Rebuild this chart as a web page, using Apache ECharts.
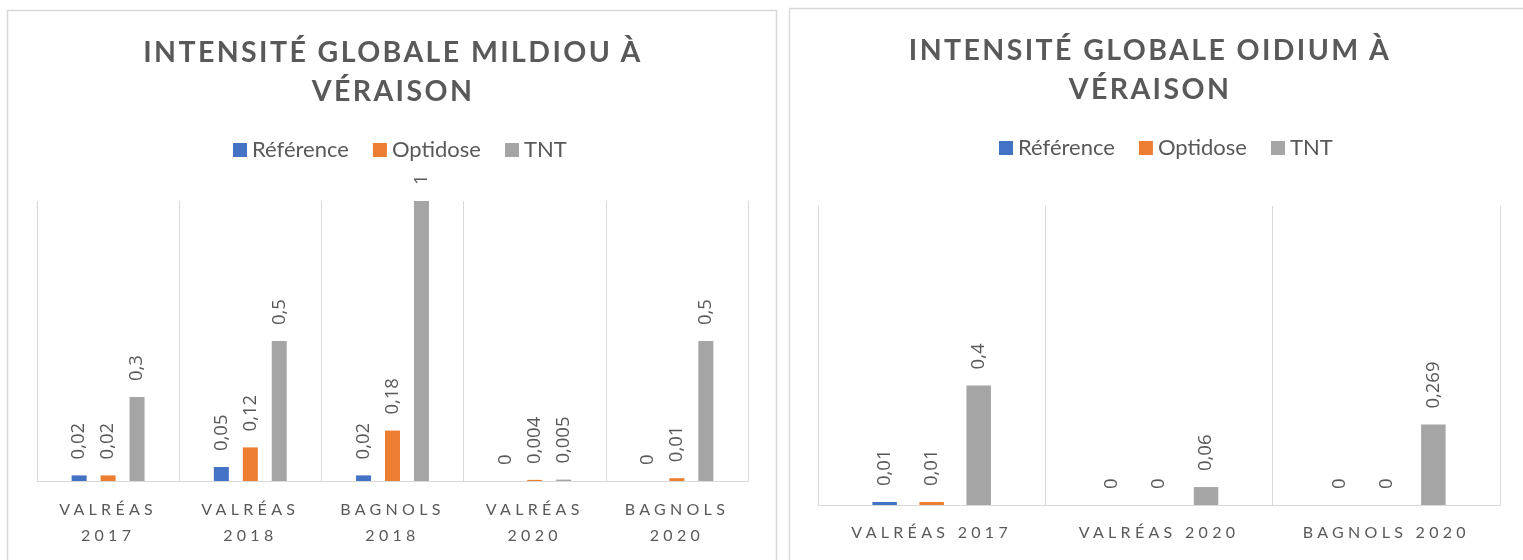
<!DOCTYPE html>
<html><head><meta charset="utf-8">
<script src="https://cdn.jsdelivr.net/npm/echarts@6/dist/echarts.min.js"></script>
<style>
html,body{margin:0;padding:0;background:#fff;}
#wrap{position:relative;width:1523px;height:560px;overflow:hidden;}
.layer{position:absolute;left:0;top:0;width:1523px;height:560px;}
#titles,#labels{pointer-events:none;}
#titles text{letter-spacing:2.4px;}
#labels text{letter-spacing:4.3px;}
</style></head>
<body>
<div id="wrap"><div id="base" class="layer"></div><div id="titles" class="layer"></div><div id="labels" class="layer"></div></div>
<script>
// ---- data ----
const seriesNames = ['Référence', 'Optidose', 'TNT'];
const mildiouCategories = ['VALRÉAS 2017', 'VALRÉAS 2018', 'BAGNOLS 2018', 'VALRÉAS 2020', 'BAGNOLS 2020'];
const mildiouReference = [0.02, 0.05, 0.02, 0, 0];
const mildiouOptidose = [0.02, 0.12, 0.18, 0.004, 0.01];
const mildiouTNT = [0.3, 0.5, 1, 0.005, 0.5];
const oidiumCategories = ['VALRÉAS 2017', 'VALRÉAS 2020', 'BAGNOLS 2020'];
const oidiumReference = [0.01, 0, 0];
const oidiumOptidose = [0.01, 0, 0];
const oidiumTNT = [0.4, 0.06, 0.269];
const chartTitles = ['INTENSITÉ GLOBALE MILDIOU À\nVÉRAISON', 'INTENSITÉ GLOBALE OIDIUM À\nVÉRAISON'];

// ---- styles ----
const colors = ['#4472C4', '#ED7D31', '#A5A5A5'];
const textGray = '#595959';
const lineGray = '#d9d9d9';
const grids = [
  { left: 37, top: 201, width: 711, height: 280 },
  { left: 818, top: 206, width: 682, height: 299 }
];
const fmt = p => String(p.value).replace('.', ',');

function makeSeries(gridIdx, values, i, barWidth, barGap) {
  return {
    name: seriesNames[i], type: 'bar', xAxisIndex: gridIdx, yAxisIndex: gridIdx,
    data: values, barWidth: barWidth, barGap: barGap,
    itemStyle: { color: colors[i] },
    label: {
      show: true, position: 'top', rotate: 90, align: 'left', verticalAlign: 'middle',
      distance: 16, color: textGray, fontFamily: 'Open Sans', fontSize: 18.5, formatter: fmt
    }
  };
}

const baseX = (idx, data) => ({
  type: 'category', gridIndex: idx, data: data,
  axisLine: { lineStyle: { color: lineGray, width: 1 } },
  axisTick: { show: false }, axisLabel: { show: false },
  splitLine: { show: true, lineStyle: { color: lineGray, width: 1 } }
});
const baseY = idx => ({ type: 'value', gridIndex: idx, min: 0, max: 1, show: false });

const legendCommon = {
  orient: 'horizontal', padding: 0, itemWidth: 14, itemHeight: 14, itemGap: 24, icon: 'rect',
  selectedMode: false, data: seriesNames,
  textStyle: { fontFamily: 'Lato', fontSize: 22, color: textGray, lineHeight: 22 }
};

const base = echarts.init(document.getElementById('base'), null, { renderer: 'canvas' });
base.setOption({
  animation: false, backgroundColor: '#fff',
  graphic: [
    { type: 'rect', shape: { x: 7.5, y: 10.5, width: 769, height: 600 }, style: { fill: 'none', stroke: lineGray, lineWidth: 1.5 }, z: -10 },
    { type: 'rect', shape: { x: 789.5, y: 8.5, width: 800, height: 600 }, style: { fill: 'none', stroke: lineGray, lineWidth: 1.5 }, z: -10 }
  ],
  legend: [
    Object.assign({}, legendCommon, { left: 233, top: 139 }),
    Object.assign({}, legendCommon, { left: 999, top: 137 })
  ],
  grid: grids,
  xAxis: [baseX(0, mildiouCategories), baseX(1, oidiumCategories)],
  yAxis: [baseY(0), baseY(1)],
  series: [
    makeSeries(0, mildiouReference, 0, 15, '93%'),
    makeSeries(0, mildiouOptidose, 1, 15, '93%'),
    makeSeries(0, mildiouTNT, 2, 15, '93%'),
    makeSeries(1, oidiumReference, 0, 24.5, '92%'),
    makeSeries(1, oidiumOptidose, 1, 24.5, '92%'),
    makeSeries(1, oidiumTNT, 2, 24.5, '92%')
  ]
});

const titleStyle = { fontFamily: 'Lato', fontWeight: 'bold', fontSize: 28.5, color: textGray, lineHeight: 39 };
const titles = echarts.init(document.getElementById('titles'), null, { renderer: 'svg' });
titles.setOption({
  animation: false, backgroundColor: 'transparent',
  title: [
    { text: chartTitles[0], left: 393, top: 31, padding: 0, textAlign: 'center', textStyle: titleStyle },
    { text: chartTitles[1], left: 1150, top: 29, padding: 0, textAlign: 'center', textStyle: titleStyle }
  ]
});

const labelX = (idx, data, margin, wrap) => ({
  type: 'category', gridIndex: idx, data: data,
  axisLine: { show: false }, axisTick: { show: false }, splitLine: { show: false },
  axisLabel: {
    show: true, interval: 0, margin: margin, color: textGray, fontFamily: 'Lato', fontSize: 16, lineHeight: 26,
    formatter: v => wrap ? v.replace(' ', '\n') : v
  }
});
const labels = echarts.init(document.getElementById('labels'), null, { renderer: 'svg' });
labels.setOption({
  animation: false, backgroundColor: 'transparent',
  grid: grids,
  xAxis: [labelX(0, mildiouCategories, 14, true), labelX(1, oidiumCategories, 13, false)],
  yAxis: [baseY(0), baseY(1)],
  series: []
});
</script>
</body></html>
